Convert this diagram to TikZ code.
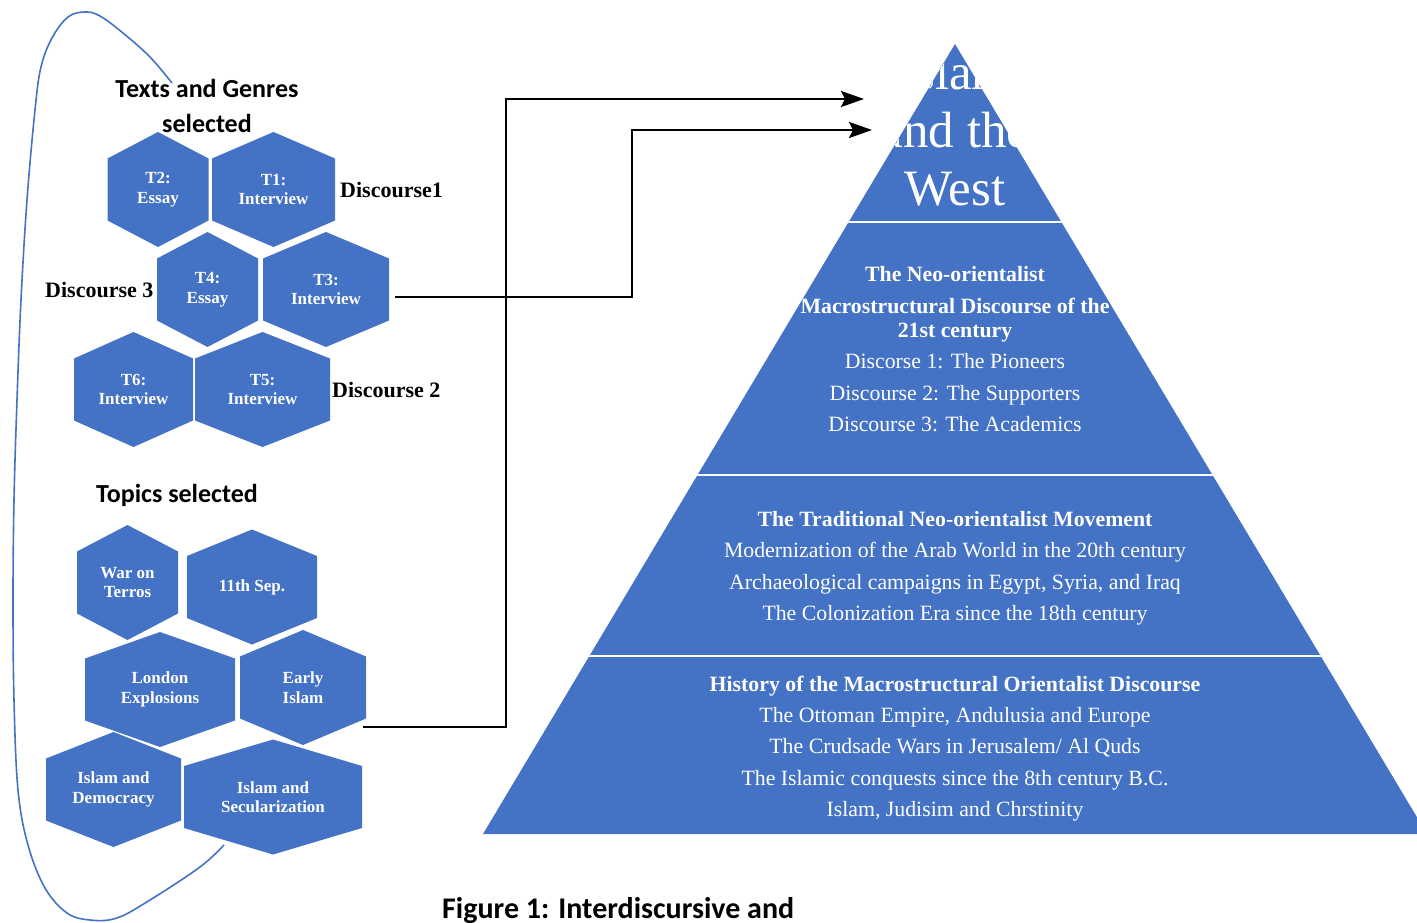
\documentclass[tikz,border=0pt]{standalone}
\usepackage{fontspec}
\setmainfont{Liberation Serif}
\newfontfamily\labelfont{Carlito}
\usetikzlibrary{arrows.meta}
\definecolor{hexblue}{HTML}{4472C4}

% pointy-top hexagon: name, centre x, centre y, half width, text
\newcommand\hexcell[5]{%
  \fill[hexblue] (#2,#3-57.5) -- (#2+#4,#3-31) -- (#2+#4,#3+31) --
    (#2,#3+57.5) -- (#2-#4,#3+31) -- (#2-#4,#3-31) -- cycle;
  \node[hextext, minimum width=2*#4, minimum height=115] (#1) at (#2,#3) {#5};
}

\begin{document}
\begin{tikzpicture}[x=1pt,y=-1pt,
  hextext/.style={text=white, font=\fontsize{17}{19.5}\selectfont\bfseries,
    align=center, inner sep=0pt},
  headlabel/.style={font=\labelfont\fontsize{26}{30}\selectfont\bfseries,
    inner sep=0pt, anchor=base},
  dlabel/.style={font=\fontsize{22}{26}\selectfont\bfseries,
    inner sep=0pt, anchor=base west},
  pyrhead/.style={text=white, font=\fontsize{21.8}{24}\selectfont\bfseries,
    inner sep=0pt, anchor=base},
  pyrline/.style={text=white, font=\fontsize{21.8}{24}\selectfont,
    inner sep=0pt, anchor=base},
  toptext/.style={text=white, font=\fontsize{51}{57.5}\selectfont,
    inner sep=0pt, anchor=base},
  layersep/.style={white, line width=2.6pt},
  link/.style={line width=2.5pt, -{Stealth[length=23pt,width=16pt,inset=4pt]}},
  outline/.style={hexblue, line width=1.6pt}
]
\useasboundingbox (0,0) rectangle (1417,923);

% enclosing curve round the selections
\draw[outline] plot[smooth, tension=0.6] coordinates {
  (172,83) (150,57) (123,33) (100,16) (85,12) (68,17) (52,38) (41,67)
  (35,110) (27,200) (21,300) (17,400) (14,500) (13,600) (14,700)
  (18,790) (28,845) (45,888) (67,913) (90,920) (117,918) (150,900)
  (200,867) (224,845)};

% texts and genres
\node[headlabel] (texthead1) at (207,98) {Texts and Genres};
\node[headlabel] (texthead2) at (207,133) {selected};
\hexcell{t2}{158}{189.5}{50.5}{T2:\\Essay}
\hexcell{t1}{273.5}{189.5}{61.5}{T1:\\Interview}
\hexcell{t4}{207.5}{289.5}{50.5}{T4:\\Essay}
\hexcell{t3}{326}{289.5}{63}{T3:\\Interview}
\hexcell{t6}{133.5}{389.5}{59.5}{T6:\\Interview}
\hexcell{t5}{262.5}{389.5}{67.5}{T5:\\Interview}
\node[dlabel] (d1) at (340,197) {Discourse1};
\node[dlabel] (d3) at (45,297) {Discourse 3};
\node[dlabel] (d2) at (332,397) {Discourse 2};

% topics
\node[headlabel] (topichead) at (177,502) {Topics selected};
\hexcell{war}{127.5}{582.5}{50.5}{War on\\Terros}
\hexcell{sep}{252}{587}{65}{11th Sep.}
\hexcell{london}{160}{689.5}{75}{London\\Explosions}
\hexcell{early}{303}{687.5}{63}{Early\\Islam}
\hexcell{democ}{113.5}{789.5}{67.5}{Islam and\\Democracy}
\hexcell{secul}{273}{797}{89}{Islam and\\Secularization}

% pyramid
\coordinate (apex) at (955,44);
\coordinate (baseL) at (483,834);
\coordinate (baseR) at (1427,834);
\fill[hexblue] (apex) -- (baseR) -- (baseL) -- cycle;
\begin{scope}
  \clip (apex) -- (baseR) -- (baseL) -- cycle;
  \draw[layersep] (483,222) -- (1427,222);
  \draw[layersep] (483,475) -- (1427,475);
  \draw[layersep] (483,656) -- (1427,656);
  \node[toptext] (top1) at (955,90) {Islam};
  \node[toptext] (top2) at (955,148) {and the};
  \node[toptext] (top3) at (955,205) {West};

  \node[pyrhead] (n1) at (955,281) {The Neo-orientalist};
  \node[pyrhead] (n2) at (955,313) {Macrostructural Discourse of the};
  \node[pyrhead] (n3) at (955,337) {21st century};
  \node[pyrline] (n4) at (955,368) {Discorse 1: The Pioneers};
  \node[pyrline] (n5) at (955,400) {Discourse 2: The Supporters};
  \node[pyrline] (n6) at (955,431) {Discourse 3: The Academics};

  \node[pyrhead] (m1) at (955,526) {The Traditional Neo-orientalist Movement};
  \node[pyrline] (m2) at (955,557) {Modernization of the Arab World in the 20th century};
  \node[pyrline] (m3) at (955,589) {Archaeological campaigns in Egypt, Syria, and Iraq};
  \node[pyrline] (m4) at (955,620) {The Colonization Era since the 18th century};

  \node[pyrhead] (h1) at (955,691) {History of the Macrostructural Orientalist Discourse};
  \node[pyrline] (h2) at (955,722) {The Ottoman Empire, Andulusia and Europe};
  \node[pyrline] (h3) at (955,753) {The Crudsade Wars in Jerusalem/ Al Quds};
  \node[pyrline] (h4) at (955,785) {The Islamic conquests since the 8th century B.C.};
  \node[pyrline] (h5) at (955,816) {Islam, Judisim and Chrstinity};
\end{scope}

% connectors into the pyramid
\coordinate (bendA) at (506,99);
\coordinate (tipA) at (864,99);
\coordinate (bendB) at (632,130);
\coordinate (tipB) at (872,130);
\draw[link] ([xshift=-3pt,yshift=-39.5pt]early.east) -| (bendA) -- (tipA);
\draw[link] ([xshift=6pt,yshift=-7.5pt]t3.east) -| (bendB) -- (tipB);

% caption
\node[font=\labelfont\fontsize{30}{34}\selectfont\bfseries, inner sep=0pt,
  anchor=base west] (caption) at (442,918) {Figure 1: Interdiscursive and};
\end{tikzpicture}
\end{document}
